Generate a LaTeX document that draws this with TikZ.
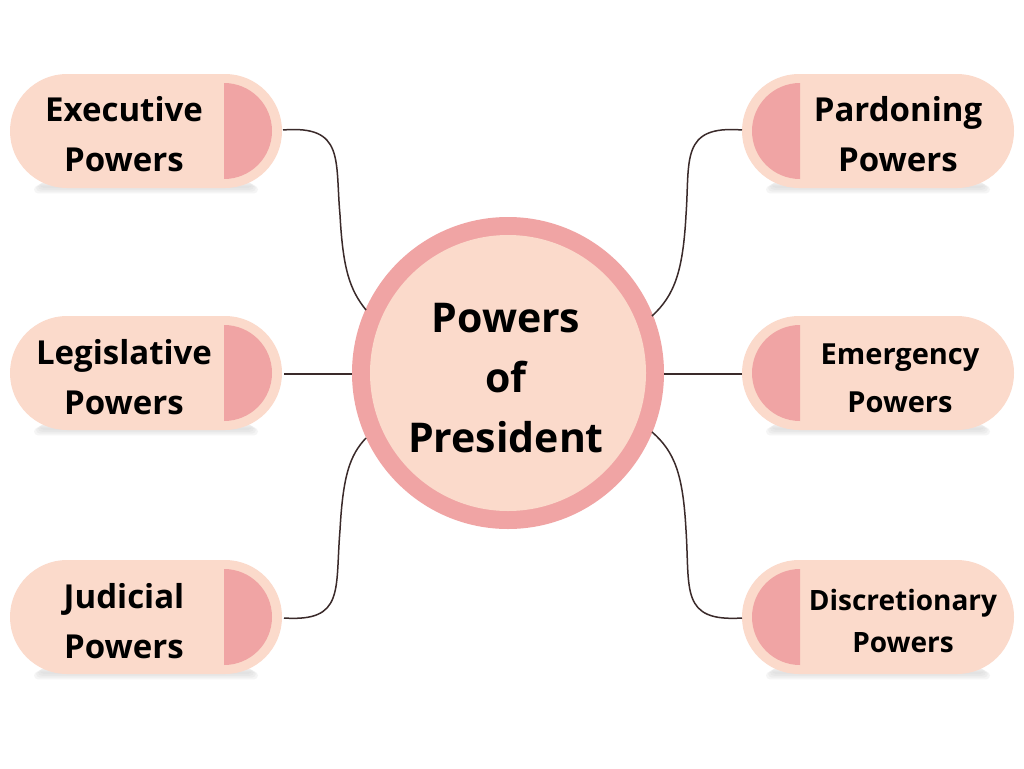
\documentclass[tikz,border=0pt]{standalone}
\usepackage{fontspec}
\setmainfont{Open Sans}
\definecolor{ring}{HTML}{F0A4A4}
\definecolor{peach}{HTML}{FBDACB}
\definecolor{line}{HTML}{3A2A2A}
\begin{document}
\begin{tikzpicture}[x=1pt,y=-1pt,
  lbl/.style={font=\bfseries\fontsize{33}{50}\selectfont,align=center,text=black},
  conn/.style={draw=line,line width=1.5pt}]
\useasboundingbox[fill=white] (0,0) rectangle (1024,768);
% pills
\foreach \nm/\x/\y/\s in {pe/10/74/L,pl/10/316/L,pj/10/560/L,pp/742/74/R,pm/742/316/R,pd/742/560/R}{
  \foreach \k in {0,2,4,6}{
    \fill[black!20,opacity=.18] (\x+30-\k,\y+108+\k*0.6) [rounded corners=4pt] rectangle (\x+242+\k,\y+114+\k*0.9);}
  \fill[peach] (\x,\y) [rounded corners=57pt] rectangle (\x+272,\y+114);
  \begin{scope}
  \if\s L
    \clip (\x+214,\y) rectangle (\x+280,\y+114);
    \fill[ring] (\x+214,\y+57) circle[radius=48];
  \else
    \clip (\x,\y) rectangle (\x+58,\y+114);
    \fill[ring] (\x+58,\y+57) circle[radius=48];
  \fi
  \end{scope}
  \coordinate (\nm) at (\x,\y);
}
% center
\node[circle,minimum size=312pt,fill=ring] (c) at (508,373) {};
\node[circle,minimum size=276pt,fill=peach] at (508,373) {};
\node[font=\bfseries\fontsize{41}{60}\selectfont,align=center] at (506,378) {Powers\\of\\President};
% labels
\node[lbl] at (124,134) {Executive\\Powers};
\node[lbl] at (124,377) {Legislative\\Powers};
\node[lbl] at (124,621) {Judicial\\Powers};
\node[lbl] at (898,134) {Pardoning\\Powers};
\node[lbl,font=\bfseries\fontsize{29}{48}\selectfont] at (900,378) {Emergency\\Powers};
\node[lbl,font=\bfseries\fontsize{28}{42}\selectfont] at (903,621) {Discretionary\\Powers};
% connectors
\coordinate (e1) at (283,130); \coordinate (e2) at (366,310);
\draw[conn] (e1) .. controls (345,125) and (335,160) .. (340,215) .. controls (343,270) and (350,290) .. (e2);
\coordinate (l1) at (284,374); \coordinate (l2) at (352,374);
\draw[conn] (l1) -- (l2);
\coordinate (j1) at (284,618); \coordinate (j2) at (366,438);
\draw[conn] (j1) .. controls (345,622) and (335,590) .. (340,530) .. controls (343,475) and (350,455) .. (j2);
\coordinate (p1) at (742,130); \coordinate (p2) at (652,316);
\draw[conn] (p1) .. controls (680,125) and (690,160) .. (686,215) .. controls (683,270) and (675,295) .. (p2);
\coordinate (m1) at (742,374); \coordinate (m2) at (664,374);
\draw[conn] (m1) -- (m2);
\coordinate (d1) at (742,618); \coordinate (d2) at (652,432);
\draw[conn] (d1) .. controls (680,622) and (690,590) .. (686,530) .. controls (683,475) and (675,452) .. (d2);
\end{tikzpicture}
\end{document}
